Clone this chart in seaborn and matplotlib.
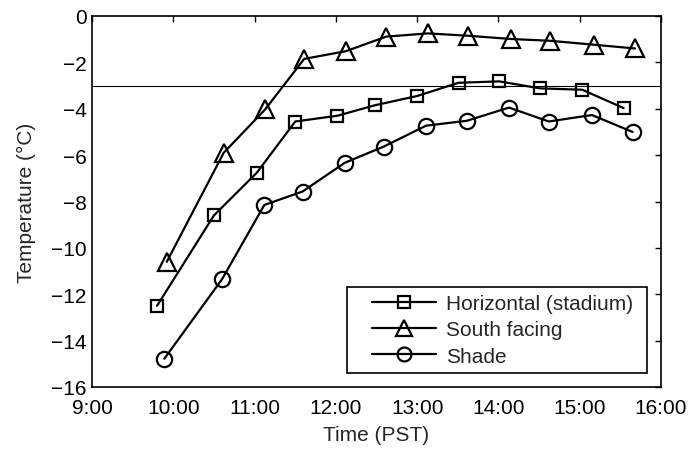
import matplotlib
matplotlib.use("Agg")
import matplotlib.pyplot as plt
import seaborn as sns
import pandas as pd
from matplotlib.path import Path
from matplotlib.ticker import FixedLocator, FixedFormatter

# ---- data (time in decimal hours, PST) ----
horiz_time = [9.80, 10.50, 11.03, 11.50, 12.02, 12.48, 13.00, 13.51, 14.01, 14.51, 15.03, 15.54]
horiz_temp = [-12.5, -8.6, -6.75, -4.55, -4.3, -3.85, -3.45, -2.88, -2.82, -3.12, -3.18, -3.97]

south_time = [9.92, 10.62, 11.13, 11.61, 12.12, 12.62, 13.13, 13.62, 14.15, 14.64, 15.18, 15.68]
south_temp = [-10.6, -5.9, -4.03, -1.85, -1.52, -0.89, -0.75, -0.85, -0.99, -1.07, -1.24, -1.4]

shade_time = [9.89, 10.60, 11.12, 11.59, 12.11, 12.59, 13.11, 13.61, 14.13, 14.62, 15.15, 15.65]
shade_temp = [-14.78, -11.35, -8.15, -7.57, -6.33, -5.63, -4.73, -4.52, -3.95, -4.55, -4.27, -5.0]

ref_temp = -3.0

labels = ["Horizontal (stadium)", "South facing", "Shade"]
x_ticks = [9, 10, 11, 12, 13, 14, 15, 16]
x_tick_labels = ["9:00", "10:00", "11:00", "12:00", "13:00", "14:00", "15:00", "16:00"]
y_ticks = [0, -2, -4, -6, -8, -10, -12, -14, -16]

FS = 15

sns.set_style("white")
plt.rcParams["font.family"] = ["Liberation Sans", "DejaVu Sans"]
plt.rcParams["axes.unicode_minus"] = True

fig = plt.figure(figsize=(6.91, 4.52), dpi=100)
ax = fig.add_axes([92 / 691, 64 / 452, 569 / 691, 371 / 452])

series = [
    (horiz_time, horiz_temp, "s", 9.0),
    (south_time, south_temp, "^", 13.0),
    (shade_time, shade_temp, "o", 11.0),
]
for (t, v, m, ms), lab in zip(series, labels):
    df = pd.DataFrame({"time": t, "temp": v})
    sns.lineplot(data=df, x="time", y="temp", ax=ax, color="black", lw=1.6,
                 marker=m, markersize=ms, markerfacecolor="none",
                 markeredgecolor="black", markeredgewidth=1.6,
                 sort=False, estimator=None, label=lab)

ax.axhline(ref_temp, color="black", lw=0.8, zorder=1)

ax.set_xlim(9, 16)
ax.set_ylim(-16, 0)
ax.xaxis.set_major_locator(FixedLocator(x_ticks))
ax.xaxis.set_major_formatter(FixedFormatter(x_tick_labels))
ax.yaxis.set_major_locator(FixedLocator(y_ticks))
ax.set_yticklabels([("\u2212" + str(-y)) if y < 0 else str(y) for y in y_ticks])

ax.tick_params(axis="both", direction="in", length=4.5, width=1.0,
               labelsize=FS, top=True, right=True, colors="black")
ax.tick_params(axis="x", pad=8)
ax.tick_params(axis="y", pad=4)
for s in ax.spines.values():
    s.set_linewidth(1.2)
    s.set_color("black")

ax.set_xlabel("Time (PST)", fontsize=FS, labelpad=6)
ax.set_ylabel("Temperature (\u00b0C)", fontsize=FS, labelpad=11)

# legend frame: extra horizontal padding (left/right) in units of fontsize
PAD_L, PAD_R = 0.85, 0.3


def wide_box(x0, y0, width, height, mutation_size):
    l = x0 - PAD_L * mutation_size
    r = x0 + width + PAD_R * mutation_size
    b = y0
    t = y0 + height
    return Path([(l, b), (r, b), (r, t), (l, t), (l, b)],
                [Path.MOVETO, Path.LINETO, Path.LINETO, Path.LINETO, Path.CLOSEPOLY])


fs_px = FS * 100 / 72
leg = ax.legend(loc="lower right",
                bbox_to_anchor=((647 - PAD_R * fs_px - 92) / 569, (388 - 374) / 371),
                borderaxespad=0, fontsize=FS, frameon=True, fancybox=False,
                edgecolor="black", framealpha=1, handlelength=3.1, handletextpad=0.48,
                labelspacing=0.35, borderpad=0.35)
leg.get_frame().set_boxstyle(wide_box)
leg.get_frame().set_linewidth(1.2)
for h, ms in zip(leg.legend_handles, [8, 11, 10]):
    h.set_markersize(ms)

fig.savefig("out.png", dpi=100)
